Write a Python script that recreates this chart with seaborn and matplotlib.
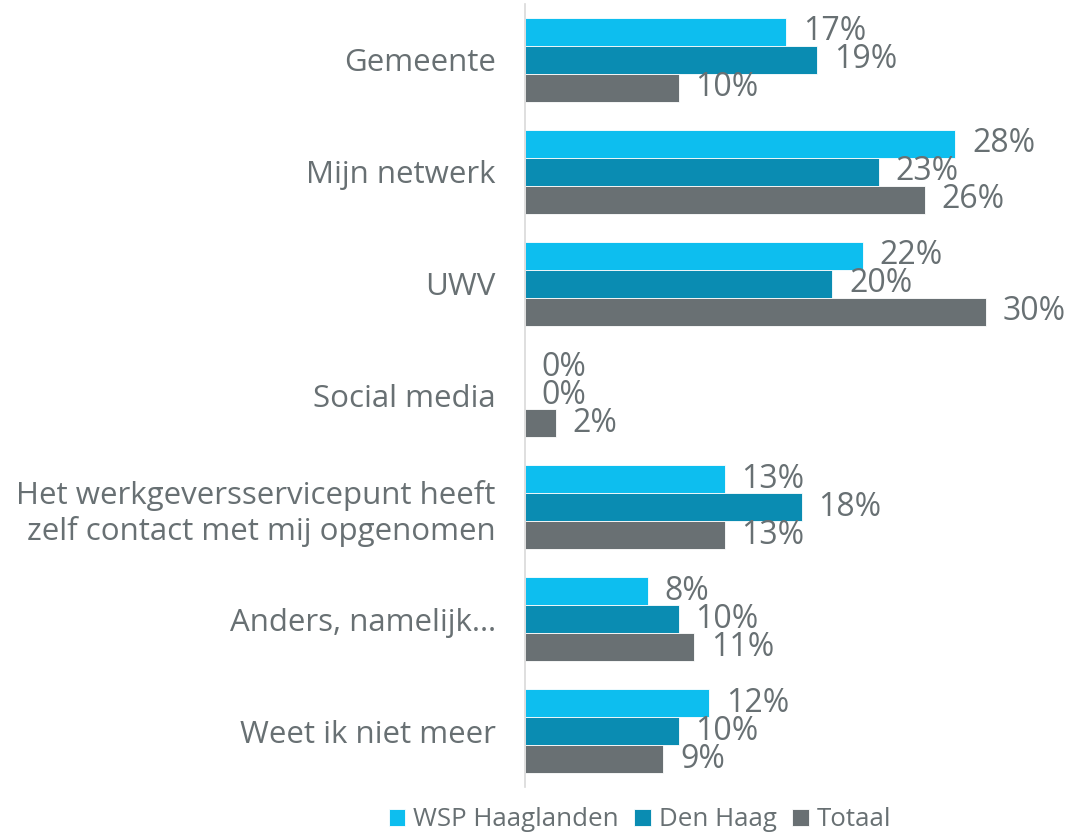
import matplotlib
matplotlib.use("Agg")
import matplotlib.pyplot as plt
import seaborn as sns
import pandas as pd
from matplotlib import font_manager

categories = ["Gemeente", "Mijn netwerk", "UWV", "Social media",
              "Het werkgeversservicepunt heeft\nzelf contact met mij opgenomen",
              "Anders, namelijk…", "Weet ik niet meer"]
series = ["WSP Haaglanden", "Den Haag", "Totaal"]
wsp = [17, 28, 22, 0, 13, 8, 12]
denhaag = [19, 23, 20, 0, 18, 10, 10]
totaal = [10, 26, 30, 2, 13, 11, 9]
colors = ["#0DBEEF", "#0A8CB2", "#697073"]
text_color = "#687073"

sns.set_theme(style="white")
names = {f.name for f in font_manager.fontManager.ttflist}
fam = [f for f in ["Liberation Sans Narrow", "Open Sans", "DejaVu Sans"] if f in names]
plt.rcParams["font.family"] = fam

rows = []
for s, vals in zip(series, [wsp, denhaag, totaal]):
    for c, v in zip(categories, vals):
        rows.append({"cat": c, "series": s, "val": v})
df = pd.DataFrame(rows)

fig = plt.figure(figsize=(10.76, 8.34), dpi=100)
ax = fig.add_axes([525/1076, 1 - 787/834, (1063-525)/1076, 783/834])
sns.barplot(data=df, y="cat", x="val", hue="series", palette=colors,
            orient="h", width=0.75, gap=0, ax=ax, legend=True,
            edgecolor="white", linewidth=0.6, saturation=1)
for cont in ax.containers:
    ax.bar_label(cont, labels=[f"{v:.0f}%" for v in cont.datavalues],
                 padding=12, fontsize=23, color=text_color)
ax.set_xlim(0, 35)
ax.set_ylim(6.5, -0.5)
ax.set_xlabel("")
ax.set_ylabel("")
ax.set_xticks([])
ax.tick_params(axis="y", length=0, pad=21, labelsize=22.5, labelcolor=text_color)
for sp in ["top", "right", "bottom"]:
    ax.spines[sp].set_visible(False)
ax.spines["left"].set_color("#D9D9D9")
ax.spines["left"].set_linewidth(1.2)

handles, labels = ax.get_legend_handles_labels()
ax.legend_.remove()
fig.legend(handles, labels, loc="center", bbox_to_anchor=(640/1076, 1 - 820/834),
           ncol=3, frameon=False, fontsize=18.6, labelcolor=text_color,
           handlelength=0.65, handleheight=0.65, handletextpad=0.3, columnspacing=0.6)

fig.savefig("out.png", dpi=100)
